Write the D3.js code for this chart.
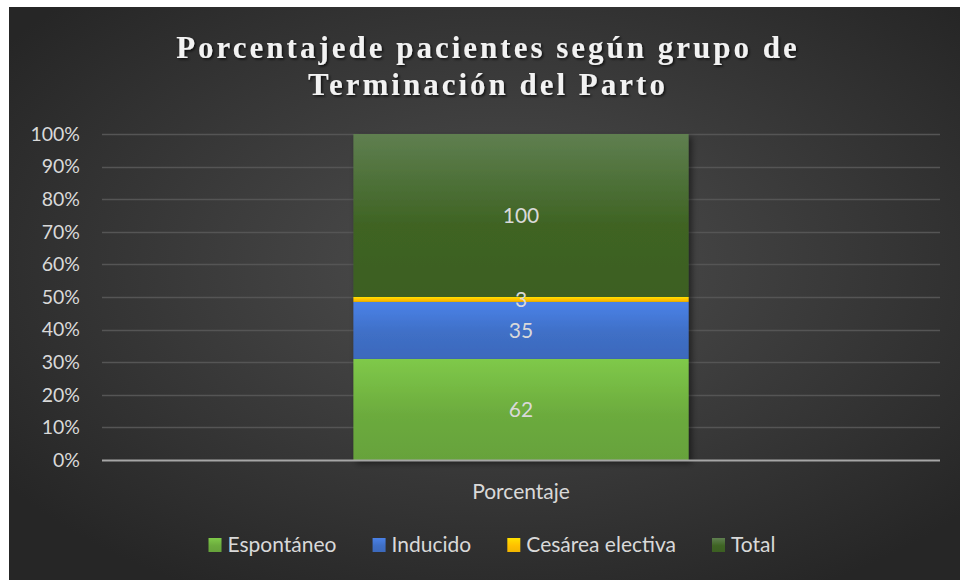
<!DOCTYPE html>
<html>
<head>
<meta charset="utf-8">
<script src="https://cdn.jsdelivr.net/npm/d3@7"></script>
<style>
  body { margin: 0; background: #fff; }
  svg { display: block; }
</style>
</head>
<body>
<svg width="960" height="580"></svg>
<script>
// data
var categories = ["Porcentaje"];
var seriesNames = ["Espontáneo", "Inducido", "Cesárea electiva", "Total"];
var seriesValues = [62, 35, 3, 100];
var seriesColors = ["#6cab3e", "#3f6fc6", "#ffc000", "#3f6424"];
var tickValues = [0, 0.1, 0.2, 0.3, 0.4, 0.5, 0.6, 0.7, 0.8, 0.9, 1];
var titleLines = ["Porcentajede pacientes según grupo de", "Terminación del Parto"];

var svg = d3.select("svg"),
    width = 960,
    height = 580,
    margin = {top: 134, right: 20, bottom: 120, left: 102};

var font = "Lato, 'Open Sans', sans-serif";
var defs = svg.append("defs");

var bg = defs.append("radialGradient").attr("id", "bg")
  .attr("cx", "52%").attr("cy", "45%").attr("r", "65%");
bg.append("stop").attr("offset", "0%").attr("stop-color", "#4f4f4f");
bg.append("stop").attr("offset", "100%").attr("stop-color", "#262626");

seriesColors.forEach(function(c, i) {
  var g = defs.append("linearGradient").attr("id", "grad" + i)
    .attr("x1", 0).attr("y1", 0).attr("x2", 0).attr("y2", 1);
  var top = i === 3 ? "#5f7f50" : d3.color(c).brighter(0.45);
  g.append("stop").attr("offset", "0%").attr("stop-color", top);
  g.append("stop").attr("offset", "55%").attr("stop-color", c);
  g.append("stop").attr("offset", "100%").attr("stop-color", d3.color(c).darker(0.15));
});

var shadow = defs.append("filter").attr("id", "shadow")
  .attr("x", "-10%").attr("y", "-10%").attr("width", "130%").attr("height", "130%");
shadow.append("feDropShadow").attr("dx", 3).attr("dy", 3).attr("stdDeviation", 3)
  .attr("flood-color", "#000").attr("flood-opacity", 0.5);

var tshadow = defs.append("filter").attr("id", "tshadow");
tshadow.append("feDropShadow").attr("dx", 1.5).attr("dy", 1.5).attr("stdDeviation", 1)
  .attr("flood-color", "#000").attr("flood-opacity", 0.7);

// background
svg.append("rect").attr("x", 9).attr("y", 7)
  .attr("width", width - 9).attr("height", height - 7)
  .attr("fill", "url(#bg)");

// title
svg.append("text")
  .attr("x", 488).attr("y", 58)
  .attr("text-anchor", "middle")
  .attr("font-family", "'Liberation Serif', 'Times New Roman', serif")
  .attr("font-weight", "bold")
  .attr("font-size", 31)
  .attr("letter-spacing", 3)
  .attr("fill", "#f2f2f2")
  .attr("filter", "url(#tshadow)")
  .selectAll("tspan")
  .data(titleLines)
  .enter().append("tspan")
  .attr("x", 488)
  .attr("dy", function(d, i) { return i === 0 ? 0 : 37; })
  .text(function(d) { return d; });

// stack as percentage of the sum
var total = d3.sum(seriesValues);
var stacked = [];
var acc = 0;
seriesValues.forEach(function(v, i) {
  stacked.push({name: seriesNames[i], value: v, y0: acc / total, y1: (acc + v) / total, i: i});
  acc += v;
});

var x = d3.scaleBand()
  .domain(categories)
  .range([margin.left, width - margin.right])
  .paddingInner(0.5).paddingOuter(0.375);

var y = d3.scaleLinear()
  .domain([0, 1])
  .range([height - margin.bottom, margin.top]);

// gridlines
svg.append("g")
  .selectAll("line")
  .data(tickValues.slice(1))
  .enter().append("line")
  .attr("x1", margin.left).attr("x2", width - margin.right)
  .attr("y1", function(d) { return Math.round(y(d)) + 0.5; })
  .attr("y2", function(d) { return Math.round(y(d)) + 0.5; })
  .attr("stroke", "#555")
  .attr("stroke-width", 1.5);

// y axis labels
var yAxis = d3.axisLeft(y)
  .tickValues(tickValues)
  .tickFormat(d3.format(".0%"))
  .tickSize(0)
  .tickPadding(22);

var yg = svg.append("g")
  .attr("transform", "translate(" + margin.left + ",0)")
  .call(yAxis);
yg.select(".domain").remove();
yg.selectAll("text")
  .attr("font-family", font)
  .attr("font-size", 19.5)
  .attr("fill", "#d9d9d9");

// bars
var barW = x.bandwidth();
var bars = svg.append("g").attr("filter", "url(#shadow)");
bars.selectAll("rect")
  .data(stacked)
  .enter().append("rect")
  .attr("x", x(categories[0]))
  .attr("width", barW)
  .attr("y", function(d) { return y(d.y1); })
  .attr("height", function(d) { return y(d.y0) - y(d.y1); })
  .attr("fill", function(d) { return "url(#grad" + d.i + ")"; });

// data labels
svg.append("g")
  .selectAll("text")
  .data(stacked)
  .enter().append("text")
  .attr("x", x(categories[0]) + barW / 2)
  .attr("y", function(d) { return y((d.y0 + d.y1) / 2); })
  .attr("dy", "0.35em")
  .attr("text-anchor", "middle")
  .attr("font-family", font)
  .attr("font-size", 21)
  .attr("fill", "#d9d9d9")
  .text(function(d) { return d.value; });

// x axis
svg.append("line")
  .attr("x1", margin.left).attr("x2", width - margin.right)
  .attr("y1", y(0) + 0.5).attr("y2", y(0) + 0.5)
  .attr("stroke", "#a6a6a6")
  .attr("stroke-width", 2);

var xAxis = d3.axisBottom(x).tickSize(0).tickPadding(24);
var xg = svg.append("g")
  .attr("transform", "translate(0," + y(0) + ")")
  .call(xAxis);
xg.select(".domain").remove();
xg.selectAll("text")
  .attr("font-family", font)
  .attr("font-size", 21)
  .attr("fill", "#d9d9d9");

// legend
var legend = svg.append("g").attr("transform", "translate(0,545)");
var items = legend.selectAll("g")
  .data(seriesNames)
  .enter().append("g");
items.append("rect")
  .attr("y", -7).attr("width", 13).attr("height", 14)
  .attr("fill", function(d, i) { return "url(#grad" + i + ")"; });
items.append("text")
  .attr("x", 19).attr("dy", "0.35em")
  .attr("font-family", font)
  .attr("font-size", 21)
  .attr("fill", "#d9d9d9")
  .text(function(d) { return d; });

var gap = 36;
var offsets = [];
var pos = 0;
items.each(function() {
  var w = this.getBBox().width;
  offsets.push(pos);
  pos += w + gap;
});
var totalW = pos - gap;
var start = 492 - totalW / 2;
items.attr("transform", function(d, i) { return "translate(" + (start + offsets[i]) + ",0)"; });
</script>
</body>
</html>
